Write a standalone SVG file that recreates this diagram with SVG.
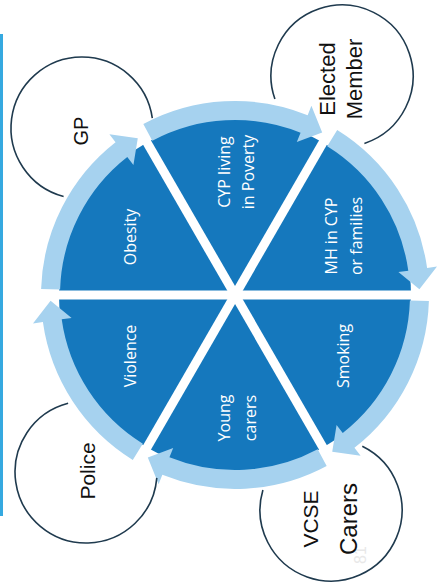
<svg xmlns="http://www.w3.org/2000/svg" xmlns:xlink="http://www.w3.org/1999/xlink" width="439" height="586" viewBox="0 0 439 586">
<style>
.pie{fill:#1578bd}
.ring{fill:#a6d2ef}
.div{stroke:#ffffff;stroke-width:9;fill:none}
.circ{fill:none;stroke:#1f3a4e;stroke-width:1.6}
.lab{font-family:"Liberation Sans",Arial,sans-serif;fill:#111111;text-anchor:middle}
.in{font-family:"Open Sans","Liberation Sans",sans-serif;fill:#ffffff;text-anchor:middle;font-size:16px}
</style>
<defs>
<path id="wedge" d="M0,0 L176,0 A176,176 0 0 1 88,152.42 Z"/>
<path id="arrow" d="M193.9,6.09 A194,194 0 0 1 119.44,152.87 L125.6,160.75 L97.22,156.81 L101.58,130.02 L107.74,137.9 A175,175 0 0 0 174.91,5.5 Z"/>
</defs>
<rect x="0" y="0" width="439" height="586" fill="#ffffff"/>
<rect x="0" y="34" width="3" height="482" fill="#35a9e0"/>
<g id="segments">
<g id="seg-smoking"><use xlink:href="#wedge" class="pie" transform="translate(235,295) rotate(0)"/></g>
<g id="seg-young-carers"><use xlink:href="#wedge" class="pie" transform="translate(235,295) rotate(60)"/></g>
<g id="seg-violence"><use xlink:href="#wedge" class="pie" transform="translate(235,295) rotate(120)"/></g>
<g id="seg-obesity"><use xlink:href="#wedge" class="pie" transform="translate(235,295) rotate(180)"/></g>
<g id="seg-cyp-poverty"><use xlink:href="#wedge" class="pie" transform="translate(235,295) rotate(240)"/></g>
<g id="seg-mh"><use xlink:href="#wedge" class="pie" transform="translate(235,295) rotate(300)"/></g>
</g>
<g id="connectors">
<use xlink:href="#arrow" class="ring" transform="translate(235,295) rotate(0)"/>
<use xlink:href="#arrow" class="ring" transform="translate(235,295) rotate(60)"/>
<use xlink:href="#arrow" class="ring" transform="translate(235,295) rotate(120)"/>
<use xlink:href="#arrow" class="ring" transform="translate(235,295) rotate(180)"/>
<use xlink:href="#arrow" class="ring" transform="translate(235,295) rotate(240)"/>
<use xlink:href="#arrow" class="ring" transform="translate(235,295) rotate(300)"/>
<line class="div" x1="35" y1="295" x2="435" y2="295"/>
<line class="div" x1="135" y1="121.8" x2="335" y2="468.2"/>
<line class="div" x1="335" y1="121.8" x2="135" y2="468.2"/>
</g>
<g id="labels">
<text class="in" transform="translate(130,237) rotate(-90)" x="0" y="5.5">Obesity</text>
<text class="in" transform="translate(130,356) rotate(-90)" x="0" y="6">Violence</text>
<text class="in" transform="translate(344,356) rotate(-90)" x="0" y="5">Smoking</text>
<text class="in" transform="translate(236,172) rotate(-90)"><tspan x="0" y="-6.5">CYP living</tspan><tspan x="0" y="17.5">in Poverty</tspan></text>
<text class="in" transform="translate(341,236) rotate(-90)"><tspan x="0" y="-4">MH in CYP</tspan><tspan x="0" y="21">or families</tspan></text>
<text class="in" transform="translate(237,418) rotate(-90)"><tspan x="0" y="-7">Young</tspan><tspan x="0" y="19">carers</tspan></text>
</g>
<g id="node-gp">
<path class="circ" d="M152.3,118.1 A71,71 0 1 0 63.6,196.6"/>
<text class="lab" font-size="20" transform="translate(81,131) rotate(-90)" x="0" y="7">GP</text>
</g>
<g id="node-elected-member">
<path class="circ" d="M274.9,99.1 A71,71 0 1 1 364.4,143.4"/>
<text class="lab" font-size="22" transform="translate(340,79) rotate(-90)"><tspan x="0" y="-5">Elected</tspan><tspan x="0" y="22">Member</tspan></text>
</g>
<g id="node-police">
<path class="circ" d="M156.8,477.9 A71,71 0 1 1 68.1,403.3"/>
<text class="lab" font-size="21" transform="translate(86,471) rotate(-90)" x="0" y="9">Police</text>
</g>
<g id="node-vcse-carers">
<text font-family="Liberation Sans, Arial, sans-serif" font-size="16" fill="#e8e8e8" text-anchor="middle" transform="translate(360,555) rotate(-90)" x="0" y="6">81</text>
<path class="circ" d="M362.3,446.3 A71,71 0 1 1 262.9,490"/>
<text class="lab" font-size="21" transform="translate(311,519) rotate(-90)" x="0" y="7">VCSE</text>
<text class="lab" font-size="24" transform="translate(348,519) rotate(-90)" x="0" y="9">Carers</text>
</g>
</svg>
